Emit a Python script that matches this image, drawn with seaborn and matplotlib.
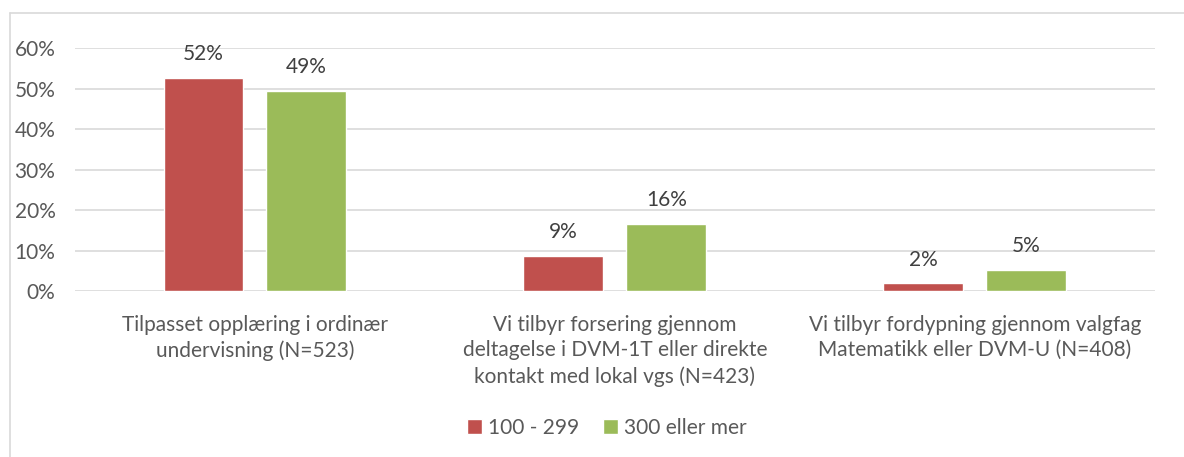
import pandas as pd
import seaborn as sns
import matplotlib.pyplot as plt
from matplotlib.lines import Line2D

categories = ['Tilpasset opplæring i ordinær\nundervisning (N=523)',
              'Vi tilbyr forsering gjennom\ndeltagelse i DVM-1T eller direkte\nkontakt med lokal vgs (N=423)',
              'Vi tilbyr fordypning gjennom valgfag\nMatematikk eller DVM-U (N=408)']
groups = ['100 - 299', '300 eller mer']
vals_small = [0.525, 0.086, 0.019]
vals_large = [0.495, 0.165, 0.053]
labels_small = ['52%', '9%', '2%']
labels_large = ['49%', '16%', '5%']
colors = ['#C0504D', '#9BBB59']

df = pd.DataFrame({'Kategori': categories * 2,
                   'Gruppe': [groups[0]] * 3 + [groups[1]] * 3,
                   'Andel': vals_small + vals_large})

sns.set_style('white')
plt.rcParams['font.family'] = ['Lato', 'DejaVu Sans']
txt = '#595959'
fs = 15

fig = plt.figure(figsize=(11.84, 4.57), dpi=100)
ax = fig.add_axes([0.0633, 0.363, 0.912, 0.532])

sns.barplot(data=df, x='Kategori', y='Andel', hue='Gruppe', palette=colors,
            width=0.572, gap=0.224, ax=ax, legend=True, saturation=1)

ax.set_ylim(0, 0.6)
ax.set_xlim(-0.5, 2.5)
ax.set_yticks([0, 0.1, 0.2, 0.3, 0.4, 0.5, 0.6])
ax.set_yticklabels(['0%', '10%', '20%', '30%', '40%', '50%', '60%'], fontsize=fs, color=txt)
ax.tick_params(axis='y', length=0, pad=14)
ax.tick_params(axis='x', length=0, pad=17)
ax.set_xticklabels(categories, fontsize=fs, color=txt, linespacing=1.35)
ax.grid(axis='y', color='#D9D9D9', linewidth=1.2)
ax.set_axisbelow(True)
for s in ax.spines.values():
    s.set_visible(False)
ax.set_xlabel('')
ax.set_ylabel('')

for cont, labs in zip(ax.containers, [labels_small, labels_large]):
    ax.bar_label(cont, labels=labs, padding=10, fontsize=fs, color='#404040')

h, l = ax.get_legend_handles_labels()
ax.legend(h, l, loc='center', bbox_to_anchor=(607 / 1184, 1 - 428 / 457), bbox_transform=fig.transFigure,
          ncol=2, frameon=False, fontsize=fs, handlelength=0.7, handleheight=0.7,
          handletextpad=0.3, columnspacing=1.15, labelcolor=txt)

# chart area border (left and top only visible)
fig.add_artist(Line2D([10 / 1184, 10 / 1184], [0, 1 - 13 / 457], transform=fig.transFigure,
                      color='#D9D9D9', linewidth=1.2))
fig.add_artist(Line2D([10 / 1184, 1], [1 - 13 / 457, 1 - 13 / 457], transform=fig.transFigure,
                      color='#D9D9D9', linewidth=1.2))

fig.savefig('out.png', dpi=100)
